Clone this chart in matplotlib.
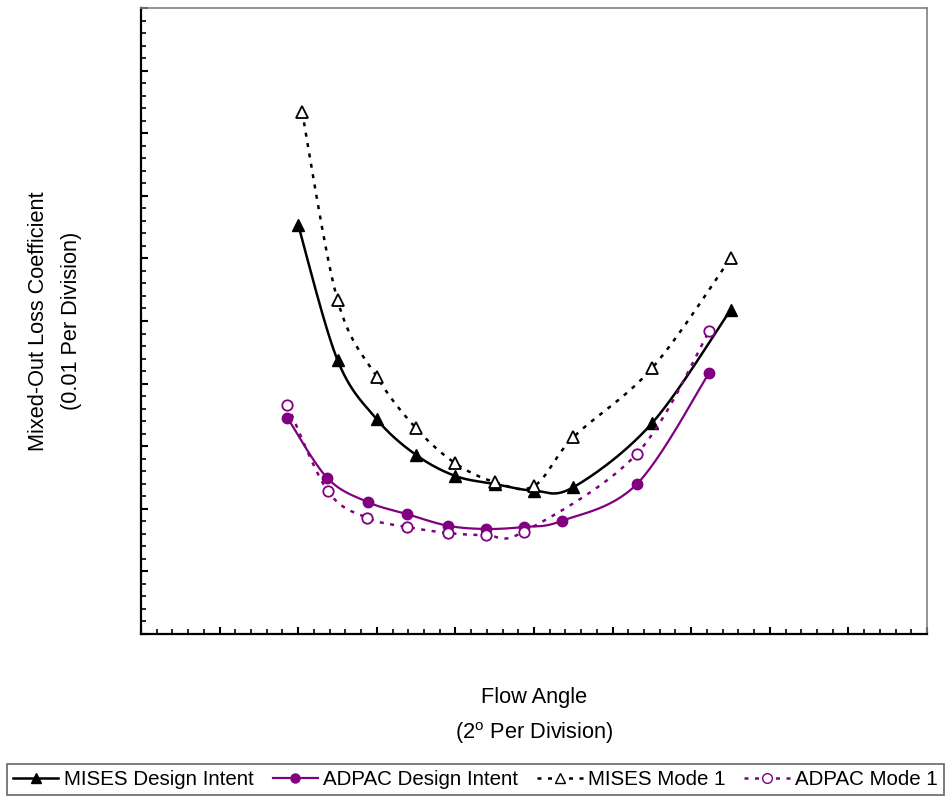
import numpy as np
import matplotlib.pyplot as plt
from matplotlib.lines import Line2D
from matplotlib.ticker import MultipleLocator, NullFormatter

plt.rcParams['font.family'] = ['Liberation Sans', 'DejaVu Sans']

# flow angle / loss in grid divisions (2 deg and 0.01 per division)
mises_di_x = [10, 12.5, 15, 17.5, 20, 22.5, 25, 27.5, 32.5, 37.5]
mises_di_y = [32.67, 21.88, 17.15, 14.30, 12.62, 11.98, 11.45, 11.72, 16.83, 25.88]

mises_m1_x = [10.25, 12.5, 15, 17.5, 20, 22.5, 25, 27.5, 32.5, 37.5]
mises_m1_y = [41.69, 26.68, 20.55, 16.43, 13.63, 12.14, 11.82, 15.71, 21.22, 30.01]

adpac_di_x = [9.31, 11.85, 14.42, 16.92, 19.51, 21.93, 24.38, 26.76, 31.53, 36.15]
adpac_di_y = [17.28, 12.46, 10.54, 9.58, 8.65, 8.39, 8.55, 9.03, 11.96, 20.87]

adpac_m1_x = [9.31, 11.88, 14.40, 16.92, 19.51, 21.95, 24.36, 31.53, 36.15]
adpac_m1_y = [18.32, 11.42, 9.27, 8.55, 8.07, 7.91, 8.17, 14.38, 24.20]

labels = ['MISES Design Intent', 'ADPAC Design Intent', 'MISES Mode 1', 'ADPAC Mode 1']
PURPLE = '#800080'


def smooth(x, y, n=30):
    # Catmull-Rom style smoothing through every point (like a spreadsheet "smoothed line")
    p = np.column_stack([x, y]).astype(float)
    p = np.vstack([p[0], p, p[-1]])
    out = []
    for i in range(1, len(p) - 2):
        p0, p1, p2, p3 = p[i - 1], p[i], p[i + 1], p[i + 2]
        c1 = p1 + (p2 - p0) / 6.0
        c2 = p2 - (p3 - p1) / 6.0
        t = np.linspace(0, 1, n)[:, None]
        seg = ((1 - t) ** 3) * p1 + 3 * ((1 - t) ** 2) * t * c1 + 3 * (1 - t) * t ** 2 * c2 + t ** 3 * p2
        out.append(seg if i == 1 else seg[1:])
    out = np.vstack(out)
    return out[:, 0], out[:, 1]


fig = plt.figure(figsize=(9.49, 7.96), dpi=100)
ax = fig.add_axes([141 / 949, 1 - 634 / 796, 786 / 949, 626 / 796])

dash = (0, (1.6, 2.6))

sx, sy = smooth(mises_di_x, mises_di_y)
ax.plot(sx, sy, color='black', lw=1.8)
ax.plot(mises_di_x, mises_di_y, ls='none', marker='^', ms=9, color='black')

sx, sy = smooth(adpac_di_x, adpac_di_y)
ax.plot(sx, sy, color=PURPLE, lw=1.6)
ax.plot(adpac_di_x, adpac_di_y, ls='none', marker='o', ms=7.5, color=PURPLE)

sx, sy = smooth(mises_m1_x, mises_m1_y)
ax.plot(sx, sy, color='black', lw=1.8, ls=dash)
ax.plot(mises_m1_x, mises_m1_y, ls='none', marker='^', ms=8, mfc='white',
        mec='black', mew=1.3)

sx, sy = smooth(adpac_m1_x, adpac_m1_y)
ax.plot(sx, sy, color=PURPLE, lw=1.8, ls=dash)
ax.plot(adpac_m1_x, adpac_m1_y, ls='none', marker='o', ms=7.5, mfc='white',
        mec=PURPLE, mew=1.3)

ax.set_xlim(0, 50)
ax.set_ylim(0, 50)
ax.xaxis.set_major_locator(MultipleLocator(5))
ax.xaxis.set_minor_locator(MultipleLocator(1))
ax.yaxis.set_major_locator(MultipleLocator(5))
ax.yaxis.set_minor_locator(MultipleLocator(1))
ax.xaxis.set_major_formatter(NullFormatter())
ax.yaxis.set_major_formatter(NullFormatter())
ax.tick_params(which='major', direction='in', length=5, width=1.5, color='black')
ax.tick_params(which='minor', direction='in', length=3.5, width=1.2, color='black')
ax.tick_params(top=False, right=False)

for s in ['left', 'bottom']:
    ax.spines[s].set_color('black')
    ax.spines[s].set_linewidth(1.6)
for s in ['top', 'right']:
    ax.spines[s].set_color('#808080')
    ax.spines[s].set_linewidth(1.2)

fig.text(534 / 949, 1 - 698 / 796, 'Flow Angle', ha='center', va='center', fontsize=15.7)
fig.text(534 / 949, 1 - 733 / 796, r'(2$^{\mathregular{o}}$ Per Division)', ha='center',
         va='center', fontsize=15.7)
ymid = 0.5 * (2 - (8 + 634) / 796)
fig.text(39 / 949, ymid, 'Mixed-Out Loss Coefficient',
         rotation=90, ha='center', va='center', fontsize=15.7)
fig.text(71 / 949, ymid, '(0.01 Per Division)',
         rotation=90, ha='center', va='center', fontsize=15.7)

handles = [
    Line2D([], [], color='black', lw=1.8, marker='^', ms=7.5),
    Line2D([], [], color=PURPLE, lw=1.6, marker='o', ms=6.5),
    Line2D([], [], color='black', lw=1.8, ls=dash, marker='^', ms=7, mfc='white', mec='black', mew=1),
    Line2D([], [], color=PURPLE, lw=1.8, ls=dash, marker='o', ms=7, mfc='white', mec=PURPLE, mew=1),
]
leg = fig.legend(handles, labels, loc='upper left', bbox_to_anchor=(7 / 949, 1 - 764 / 796),
                 ncol=4, fontsize=14.8, frameon=True, fancybox=False, handlelength=2.2,
                 handletextpad=0.27, columnspacing=0.92, borderaxespad=0, borderpad=0.3)
leg.get_frame().set_edgecolor('#404040')
leg.get_frame().set_linewidth(1.2)

fig.savefig('out.png', dpi=100)
